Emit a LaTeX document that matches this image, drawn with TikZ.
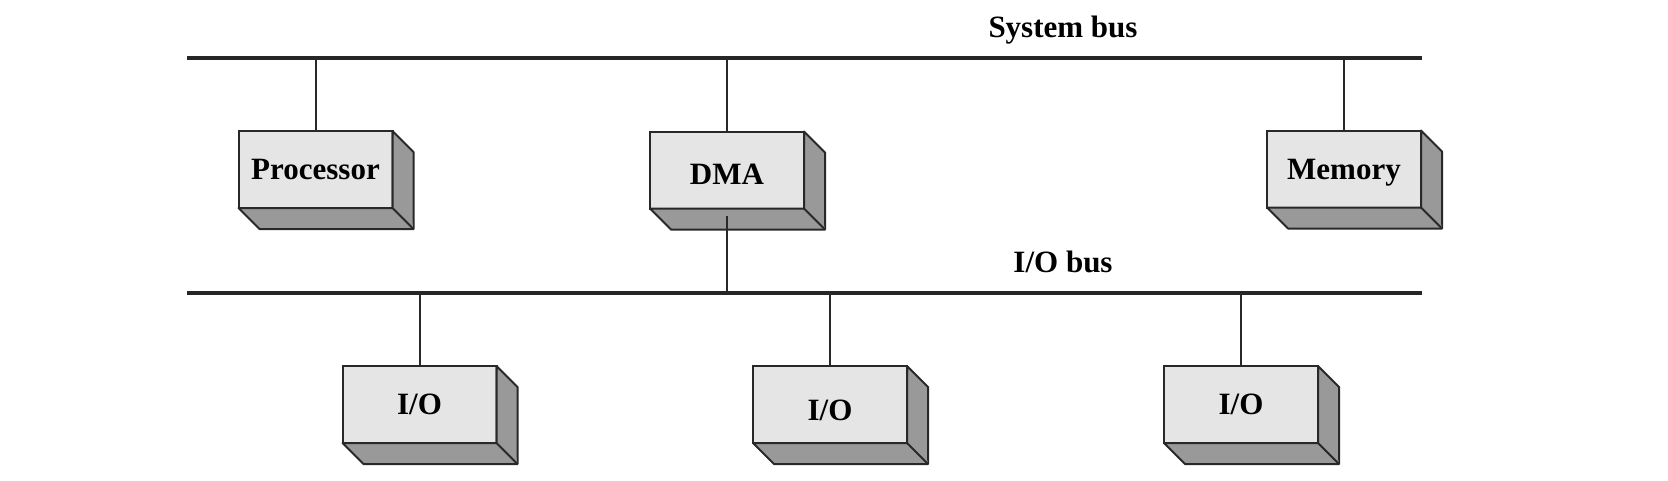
\documentclass[tikz,border=0pt]{standalone}
\usepackage{fontspec}
\setmainfont{Liberation Serif}
\definecolor{frontgray}{RGB}{229,229,229}
\definecolor{sidegray}{RGB}{153,153,153}
\definecolor{linegray}{RGB}{40,40,40}
\tikzset{
  unitbox/.style={draw=linegray, line width=2pt, fill=frontgray, minimum width=154pt, minimum height=77pt, inner sep=0pt, outer sep=0pt, font=\fontsize{31}{35}\selectfont\bfseries, text height=20.5pt, text depth=0pt},
  sideface/.style={draw=linegray, line width=2pt, fill=sidegray, line join=round},
  busline/.style={draw=black!85, line width=4pt},
  stem/.style={draw=linegray, line width=2pt},
  buslabel/.style={font=\fontsize{31}{35}\selectfont\bfseries, inner sep=0pt, text height=20.5pt, text depth=0pt}
}
\newcommand\mybox[5][]{%
  \node[unitbox,#1] (#2) at (#3,#4) {#5};
  \draw[sideface] (#2.north east) -- ++(21,21) -- ++(0,77) -- ([shift={(21,21)}]#2.south west) -- (#2.south west) -- (#2.south east) -- cycle;
  \draw[sideface] (#2.north east) -- (#2.south east) -- ++(21,21);
}
\begin{document}
\begin{tikzpicture}[x=1pt,y=-1pt]
\useasboundingbox (0,0) rectangle (1668,480);
% buses
\coordinate (sysL) at (187,58);
\coordinate (sysR) at (1422,58);
\coordinate (ioL) at (187,293);
\coordinate (ioR) at (1422,293);
\draw[busline] (sysL) -- (sysR);
\draw[busline] (ioL) -- (ioR);
\node[buslabel] (syslab) at (1063,27) {System bus};
\node[buslabel] (iolab) at (1063,262) {I/O bus};
% boxes
\mybox{proc}{315.5}{169.5}{Processor}
\mybox[text height=28pt]{dma}{727}{170}{DMA}
\mybox{mem}{1344}{169}{Memory}
\mybox{ioa}{419.5}{404.5}{I/O}
\mybox[text height=31.5pt]{iob}{830}{404.5}{I/O}
\mybox{ioc}{1241}{404.5}{I/O}
% stems
\draw[stem] (proc.north) -- (proc.north |- sysL);
\draw[stem] (dma.north) -- (dma.north |- sysL);
\draw[stem] (mem.north) -- (mem.north |- sysL);
\draw[stem] ([yshift=-7pt]dma.south) -- (dma.south |- ioL);
\draw[stem] (ioa.north) -- (ioa.north |- ioL);
\draw[stem] (iob.north) -- (iob.north |- ioL);
\draw[stem] (ioc.north) -- (ioc.north |- ioL);
\end{tikzpicture}
\end{document}
